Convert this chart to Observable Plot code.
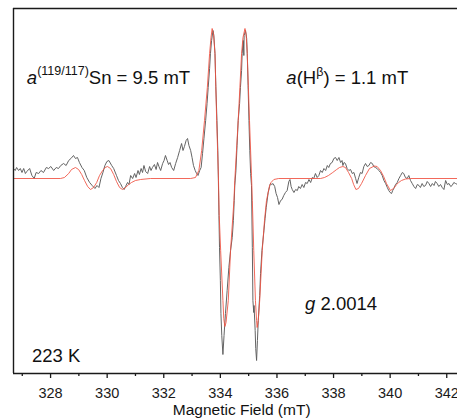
<!DOCTYPE html>
<html>
<head>
<meta charset="utf-8">
<script src="https://cdn.jsdelivr.net/npm/d3@7"></script>
<script src="https://cdn.jsdelivr.net/npm/@observablehq/plot@0.6"></script>
<style>
  html, body { margin: 0; padding: 0; background: #fff; }
  #chart { width: 457px; height: 418px; overflow: hidden; }
</style>
</head>
<body>
<div id="chart"></div>
<script>
// Experimental spectrum (grey): magnetic field (mT) and signal (arb. units)
const expField = [326.69,326.75,326.80,326.87,326.93,326.99,327.05,327.11,327.16,327.26,327.34,327.42,327.49,327.58,327.66,327.75,327.85,327.93,328.01,328.11,328.20,328.28,328.36,328.46,328.55,328.64,328.72,328.81,328.88,328.95,329.02,329.11,329.19,329.28,329.38,329.47,329.57,329.64,329.71,329.78,329.85,329.92,329.99,330.06,330.16,330.23,330.33,330.40,330.47,330.54,330.60,330.65,330.72,330.77,330.83,330.90,330.97,331.02,331.09,331.14,331.20,331.25,331.30,331.36,331.43,331.50,331.55,331.60,331.67,331.73,331.78,331.83,331.89,331.96,332.01,332.06,332.12,332.17,332.22,332.28,332.35,332.42,332.49,332.56,332.63,332.68,332.73,332.79,332.84,332.89,332.95,333.00,333.05,333.11,333.16,333.21,333.27,333.32,333.37,333.42,333.48,333.53,333.57,333.62,333.65,333.69,333.74,333.77,333.81,333.84,333.88,333.91,333.93,333.95,333.97,334.00,334.02,334.05,334.09,334.13,334.18,334.24,334.30,334.36,334.42,334.46,334.49,334.51,334.55,334.59,334.63,334.68,334.71,334.75,334.77,334.81,334.83,334.84,334.89,334.93,334.95,334.98,335.01,335.04,335.07,335.10,335.13,335.15,335.18,335.19,335.23,335.25,335.28,335.31,335.34,335.39,335.42,335.47,335.54,335.58,335.62,335.69,335.74,335.77,335.82,335.86,335.92,335.97,336.02,336.07,336.13,336.18,336.24,336.30,336.36,336.42,336.46,336.50,336.54,336.60,336.66,336.72,336.77,336.83,336.89,336.95,337.01,337.07,337.13,337.19,337.25,337.30,337.36,337.42,337.48,337.54,337.60,337.66,337.72,337.78,337.83,337.89,337.95,338.01,338.07,338.13,338.19,338.25,338.30,338.33,338.37,338.42,338.48,338.54,338.60,338.66,338.72,338.78,338.83,338.89,338.95,339.01,339.07,339.13,339.19,339.25,339.31,339.37,339.42,339.48,339.54,339.60,339.66,339.72,339.78,339.84,339.90,339.95,340.00,340.05,340.09,340.13,340.19,340.25,340.31,340.37,340.43,340.48,340.54,340.60,340.66,340.72,340.78,340.84,340.90,340.96,341.02,341.07,341.13,341.19,341.25,341.31,341.37,341.43,341.49,341.55,341.60,341.66,341.72,341.78,341.84,341.90,341.96,342.02,342.08,342.14,342.19,342.25,342.31,342.38];
const expSignal = [10,8,11,8,10,6,10,5,7,10,3,0,6,5,8,6,11,10,12,8,11,10,13,15,13,18,20,23,20,21,16,11,8,1,-4,-7,-10,-7,-9,0,6,13,17,18,13,10,3,-2,-5,-9,-11,-8,-4,-6,3,0,5,1,8,4,10,6,13,7,5,12,8,11,14,9,16,12,8,15,18,23,18,14,16,11,8,15,21,28,35,28,32,38,40,33,28,21,13,8,5,3,8,11,25,40,58,75,91,110,125,138,148,143,125,92,58,28,-2,-37,-69,-102,-135,-157,-176,-157,-135,-112,-89,-72,-59,-42,-22,-7,8,33,58,75,91,108,125,138,123,143,148,140,125,93,58,28,5,-7,-69,-122,-134,-127,-152,-170,-182,-162,-142,-117,-95,-72,-52,-40,-29,-14,-8,-5,-6,-5,-8,-15,-19,-26,-22,-21,-17,-14,-12,-3,-1,-8,-11,-14,-11,-12,-8,-10,-6,-9,-4,-5,-1,-4,1,0,5,1,3,8,6,10,8,13,11,15,16,20,21,18,21,16,18,13,16,15,10,8,9,5,6,0,-5,1,6,5,12,15,12,13,16,15,12,11,10,8,6,3,-2,-5,-9,-12,-14,-15,-12,-10,-6,-4,0,3,6,5,1,0,3,-2,-5,-8,-10,-6,-7,-9,-5,-8,-7,-3,-5,-8,-5,-7,-3,-5,-8,-6,-9,-11,-2,-6,-5,-8,-7,-4,-5,-6];

// Simulated spectrum (red)
const simField = [326.69,328.35,328.49,328.64,328.74,328.88,328.99,329.10,329.20,329.31,329.41,329.52,329.63,329.73,329.84,329.93,330.01,330.12,330.23,330.33,330.44,330.54,330.65,330.76,330.86,331.00,331.18,331.53,332.95,333.12,333.24,333.34,333.44,333.54,333.62,333.67,333.71,333.76,333.81,333.87,333.93,333.96,334.01,334.09,334.12,334.16,334.20,334.28,334.36,334.48,334.51,334.57,334.63,334.69,334.75,334.80,334.87,334.91,334.95,334.99,335.03,335.10,335.13,335.18,335.24,335.28,335.30,335.34,335.39,335.48,335.56,335.63,335.74,335.79,335.89,336.06,337.54,337.68,337.82,337.97,338.11,338.21,338.33,338.42,338.53,338.64,338.71,338.79,338.88,338.99,339.13,339.27,339.44,339.54,339.66,339.77,339.87,340.01,340.12,340.23,340.30,340.40,340.54,340.72,342.38];
const simSignal = [0,0,1,5,9,11,9,4,-2,-8,-11,-9,-4,3,8,11,12,10,4,-3,-9,-11,-9,-6,-4,-2,-1,0,0,1,8,28,58,91,125,141,150,144,125,58,3,-37,-72,-122,-140,-148,-144,-122,-72,-22,-2,28,58,91,125,141,150,144,125,91,58,3,-22,-72,-122,-142,-149,-142,-122,-72,-42,-22,-7,-4,-1,0,0,1,3,6,9,11,12,11,6,0,-6,-11,-10,-5,3,10,12.5,12,8,2,-5,-12,-10,-6,-4,-2,-0.5,0,0];

const majorTicks = [328, 330, 332, 334, 336, 338, 340, 342];
const minorTicks = [327, 329, 331, 333, 335, 337, 339, 341];
const xDomain = [326.69, 342.38];
const yDomain = [-195, 170];

const expData = expField.map((f, i) => ({field: f, signal: expSignal[i]}));
const simData = simField.map((f, i) => ({field: f, signal: simSignal[i]}));

const font = "'Liberation Sans', Arial, Helvetica, sans-serif";
const ink = "#1a1a1a";

const plot = Plot.plot({
  width: 457,
  height: 418,
  marginLeft: 13,
  marginRight: 0,
  marginTop: 8,
  marginBottom: 45,
  style: {fontFamily: font, fontSize: "14.5px", color: ink, background: "#fff", overflow: "visible"},
  x: {domain: xDomain},
  y: {domain: yDomain, axis: null},
  marks: [
    Plot.line(expData, {x: "field", y: "signal", stroke: "#5c5c5c", strokeWidth: 0.95}),
    Plot.line(simData, {x: "field", y: "signal", stroke: "#f0503f", strokeWidth: 0.95, strokeOpacity: 0.9}),
    Plot.ruleY([yDomain[0], yDomain[1]], {stroke: ink, strokeWidth: 1.4}),
    Plot.ruleX([xDomain[0]], {stroke: ink, strokeWidth: 1.4}),
    Plot.axisX(majorTicks, {tickSize: 5, tickPadding: 9, label: null, fontSize: 14.5, stroke: ink, fill: ink, strokeWidth: 1.3, tickFormat: d => String(d)}),
    Plot.axisX(minorTicks, {tickSize: 3, label: null, stroke: ink, strokeWidth: 1.3, tickFormat: () => ""})
  ]
});

document.getElementById("chart").appendChild(plot);

const sx = plot.scale("x");
const sy = plot.scale("y");
const svg = d3.select(plot);

function addText(field, signal) {
  return svg.append("text")
    .attr("x", sx.apply(field))
    .attr("y", sy.apply(signal))
    .attr("text-anchor", "start")
    .attr("font-family", font)
    .attr("font-size", 18.5)
    .attr("fill", "#111");
}

// a(119/117)Sn = 9.5 mT
const t1 = addText(327.18, 94);
t1.append("tspan").attr("font-style", "italic").text("a");
t1.append("tspan").attr("font-size", 12.5).attr("dy", -9.5).text("(119/117)");
t1.append("tspan").attr("dy", 9.5).text("Sn = 9.5 mT");

// a(Hβ) = 1.1 mT
const t2 = addText(336.35, 94.5);
t2.append("tspan").attr("font-style", "italic").text("a");
t2.append("tspan").text("(H");
t2.append("tspan").attr("font-size", 12.5).attr("dy", -8).text("β");
t2.append("tspan").attr("dy", 8).text(") = 1.1 mT");

// g 2.0014
const t3 = addText(337.01, -132);
t3.append("tspan").attr("font-style", "italic").text("g");
t3.append("tspan").text(" 2.0014");

// 223 K
addText(327.36, -184).text("223 K");

// axis title
svg.append("text")
  .attr("x", sx.apply(334.77))
  .attr("y", 415)
  .attr("text-anchor", "middle")
  .attr("font-family", font)
  .attr("font-size", 15.5)
  .attr("fill", "#111")
  .text("Magnetic Field (mT)");
</script>
</body>
</html>
